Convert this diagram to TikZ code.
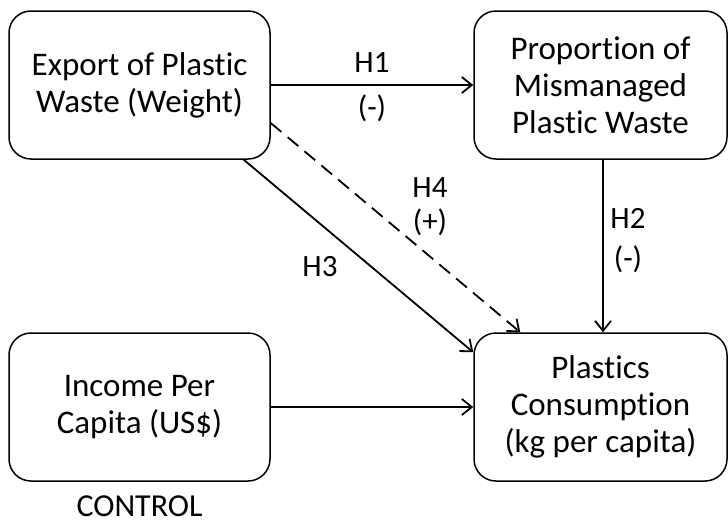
\documentclass[tikz,border=0pt]{standalone}
\usepackage{fontspec}
\setmainfont{Carlito}[Ligatures={NoCommon,NoRare,NoContextual},RawFeature={-calt}]
\usetikzlibrary{arrows.meta,calc}
\begin{document}
\begin{tikzpicture}[x=1pt,y=-1pt,
  boxnode/.style={draw=black, fill=white, line width=1.5pt, rounded corners=22pt,
    align=center, inner sep=0pt, font=\fontsize{33}{37}\selectfont},
  lab/.style={inner sep=0pt, font=\fontsize{31}{34}\selectfont},
  conn/.style={line width=1.8pt, -{Straight Barb[length=10pt,width=16pt,line width=1.8pt]}},
  dashconn/.style={conn, dash pattern=on 14pt off 8pt}]
\useasboundingbox (0,0) rectangle (728,525);
\node[boxnode, minimum width=261pt, minimum height=148pt] (A) at (139.5,85) {Export of Plastic\\Waste (Weight)};
\node[boxnode, minimum width=253pt, minimum height=148pt] (B) at (600.5,85) {Proportion of\\Mismanaged\\Plastic Waste};
\node[boxnode, minimum width=261pt, minimum height=148pt] (C) at (139.5,407) {Income Per\\Capita (US\$)};
\node[boxnode, minimum width=253pt, minimum height=148pt] (D) at (600.5,407) {Plastics\\Consumption\\(kg per capita)};
\coordinate (a3) at ($(A.south east)+(-27,0)$);
\coordinate (d3) at ($(D.north west)+(0,20)$);
\coordinate (a4) at ($(A.east)+(0,38)$);
\coordinate (d4) at ($(D.north west)+(47,0)$);
\coordinate (b2) at ($(B.south)+(2.5,0)$);
\coordinate (d2) at ($(D.north)+(2.5,0)$);
\draw[conn] (A.east) -- (B.west);
\draw[conn] (b2) -- (d2);
\draw[conn] (a3) -- (d3);
\draw[dashconn] (a4) -- (d4);
\draw[conn] (C.east) -- (D.west);
\node[lab] (h1) at (372,63) {H1};
\node[lab] (h1s) at (372,108) {(-)};
\node[lab] (h4) at (430,188) {H4};
\node[lab] (h4s) at (430,222) {(+)};
\node[lab] (h3) at (320,267) {H3};
\node[lab] (h2) at (628,218) {H2};
\node[lab] (h2s) at (628,259) {(-)};
\node[inner sep=0pt, font=\fontsize{32}{36}\selectfont] (ctrl) at (139.5,506) {CONTROL};
\end{tikzpicture}
\end{document}
